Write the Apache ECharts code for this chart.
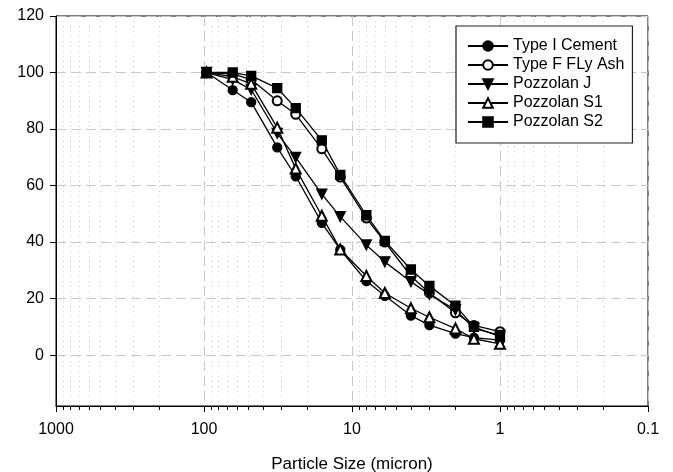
<!DOCTYPE html>
<html>
<head>
<meta charset="utf-8">
<script src="https://cdn.jsdelivr.net/npm/echarts@6/dist/echarts.min.js"></script>
<style>
  html, body { margin: 0; padding: 0; background: #fff; }
  #chart { width: 673px; height: 472px; }
</style>
</head>
<body>
<div id="chart"></div>
<script>
// particle size (micron)
const sizes = [96, 64, 48, 32, 24, 16, 12, 8, 6, 4, 3, 2, 1.5, 1]
// cumulative % passing
const cement = [100, 93.8, 89.5, 73.5, 63.3, 46.8, 37.3, 26.2, 21, 14, 10.6, 7.6, 6.2, 5.3]
const flyAsh = [100, 99.5, 97.5, 90, 85.2, 73, 63, 48.5, 40, 28, 22, 15, 10.5, 8.3]
const pozzJ = [100, 97.5, 94, 78.5, 70, 57, 49, 39, 33, 26, 21.5, 16, 9.5, 7]
const pozzS1 = [100, 98.5, 96, 80.5, 66, 49.3, 37.4, 28, 22, 16.6, 13.4, 9.4, 5.8, 4]
const pozzS2 = [100, 100, 98.8, 94.5, 87.4, 76, 63.8, 49.5, 40.4, 30.3, 24.5, 17.5, 10, 6.5]
const yTicks = [0, 20, 40, 60, 80, 100, 120]

const font = 'Liberation Sans, Arial, sans-serif'
const chart = echarts.init(document.getElementById('chart'))

function pairs(vals) {
  return sizes.map((s, i) => [s, vals[i]])
}

function line(name, vals, symbol, extra) {
  return Object.assign({
    name: name,
    type: 'line',
    data: pairs(vals),
    symbol: symbol,
    symbolSize: 9,
    lineStyle: { color: '#000', width: 1.3 },
    itemStyle: { color: '#000', borderColor: '#000', borderWidth: 1.3 },
    emphasis: { disabled: true },
    animation: false
  }, extra || {})
}

const option = {
  backgroundColor: '#fff',
  animation: false,
  grid: {
    left: 56, right: 25, top: 16, bottom: 66,
    outerBoundsMode: 'none',
    containLabel: false,
    show: true, borderColor: '#000', borderWidth: 1
  },
  legend: {
    orient: 'vertical',
    left: 456, top: 26,
    padding: [12, 8, 13, 11],
    itemWidth: 40, itemHeight: 12, itemGap: 3,
    borderColor: '#222', borderWidth: 1.2,
    backgroundColor: '#fff',
    textStyle: { fontFamily: font, fontSize: 16, color: '#000' },
    data: ['Type I Cement', 'Type F FLy Ash', 'Pozzolan J', 'Pozzolan S1', 'Pozzolan S2']
  },
  xAxis: {
    type: 'log',
    logBase: 10,
    min: 0.1, max: 1000,
    inverse: true,
    name: 'Particle Size (micron)',
    nameLocation: 'middle',
    nameGap: 50,
    nameTextStyle: { fontFamily: font, fontSize: 17, color: '#000' },
    axisLine: { onZero: false, lineStyle: { color: '#000', width: 1 } },
    axisTick: { show: true, length: 6, lineStyle: { color: '#000' } },
    minorTick: { show: true, splitNumber: 9, length: 4, lineStyle: { color: '#000' } },
    axisLabel: {
      fontFamily: font, fontSize: 16, color: '#000', margin: 16,
      formatter: v => String(v)
    },
    splitLine: { show: true, lineStyle: { color: '#c8c8c8', type: [10, 5], width: 1 } },
    minorSplitLine: { show: true, lineStyle: { color: '#d0d0d0', type: [1, 4], width: 1 } }
  },
  yAxis: {
    type: 'value',
    min: -18, max: 120,
    axisLine: { show: true, onZero: false, lineStyle: { color: '#000', width: 1 } },
    axisTick: { show: true, length: 6, customValues: yTicks, lineStyle: { color: '#000' } },
    axisLabel: { fontFamily: font, fontSize: 16, color: '#000', margin: 12, customValues: yTicks },
    splitLine: { show: true, lineStyle: { color: '#c8c8c8', type: [10, 5], width: 1 } }
  },
  series: [
    line('Type I Cement', cement, 'circle'),
    line('Type F FLy Ash', flyAsh, 'emptyCircle'),
    line('Pozzolan J', pozzJ, 'triangle', { symbolRotate: 180, symbolSize: 10 }),
    line('Pozzolan S1', pozzS1, 'emptyTriangle', { symbolSize: 10 }),
    line('Pozzolan S2', pozzS2, 'rect', { symbolSize: 9 })
  ]
}

chart.setOption(option)
</script>
</body>
</html>
